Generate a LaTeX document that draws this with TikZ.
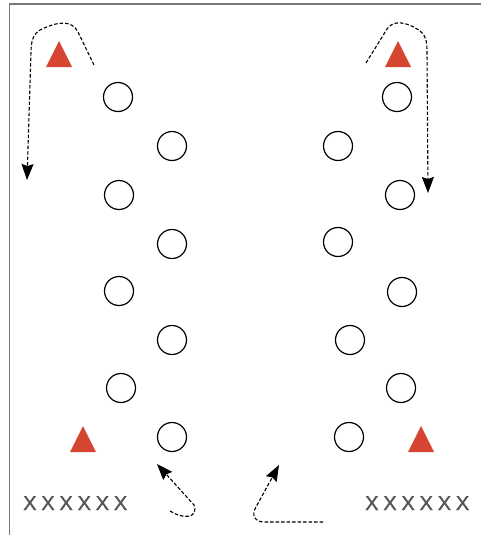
\documentclass[tikz,border=0pt]{standalone}
\usepackage{fontspec}
\usepackage{tikz}
\usepackage{xcolor}
\usetikzlibrary{arrows.meta}

\newfontfamily\teamfont[LetterSpace=24,FakeBold=1.2]{Liberation Sans}
\definecolor{conered}{RGB}{214,69,50}
\definecolor{framegray}{RGB}{120,120,120}
\definecolor{textgray}{RGB}{85,85,85}

\begin{document}
\begin{tikzpicture}[x=1pt,y=-1pt,
  player/.style={circle, draw, line width=1.2pt, minimum size=29pt, inner sep=0pt},
  run/.style={dash pattern=on 3.5pt off 2pt, line width=1.1pt, -{Stealth[length=16pt,width=12pt,inset=2pt]}},
  team/.style={font=\teamfont\fontsize{20}{20}\selectfont, text=textgray, inner sep=0pt, anchor=base west}]

\useasboundingbox (0,0) rectangle (481,535);

% ========== field border (left and top only) ==========
\draw[framegray, line width=1.4pt] (9.5,535) -- (9.5,4) -- (481,4);

% ========== cones ==========
\foreach \cx/\cy in {59/67, 398/67, 83/452, 421/452} {
  \fill[conered] (\cx-13,\cy) -- (\cx,\cy-26) -- (\cx+13,\cy) -- cycle;
}

% ========== left slalom ==========
\foreach \name/\px/\py in {la/118/97, lb/172/146, lc/119/195, ld/172/244,
                           le/119/291, lf/172/340, lg/121/388, lh/172/437} {
  \node[player] (\name) at (\px,\py) {};
}

% ========== right slalom ==========
\foreach \name/\px/\py in {ra/397/97, rb/338/146, rc/400/195, rd/338/242,
                           re/402/292, rf/350/340, rg/401/388, rh/349/437} {
  \node[player] (\name) at (\px,\py) {};
}

% ========== runs ==========
\coordinate (tlstart) at (94,65);
\coordinate (tlend) at (27,180);
\draw[run] (tlstart) -- (78,32) .. controls (72,20) and (58,21) .. (40,30)
  .. controls (33,34) and (31,42) .. (31,52) -- (tlend);

\coordinate (trstart) at (366,63);
\coordinate (trend) at (428,193);
\draw[run] (trstart) -- (387,29) .. controls (393,20) and (406,21) .. (420,31)
  .. controls (426,35) and (427,42) .. (427,52) -- (trend);

\coordinate (blstart) at (170,511);
\coordinate (blend) at (157,464);
\draw[run] (blstart) .. controls (182,519) and (199,519) .. (194,505) -- (blend);

\coordinate (brstart) at (323,522);
\coordinate (brend) at (279,465);
\draw[run] (brstart) -- (264,522) .. controls (255,522) and (251,515) .. (256,507) -- (brend);

% ========== team labels ==========
\node[team] (teamL) at (23,510) {XXXXXX};
\node[team] (teamR) at (365,510) {XXXXXX};

\end{tikzpicture}
\end{document}
